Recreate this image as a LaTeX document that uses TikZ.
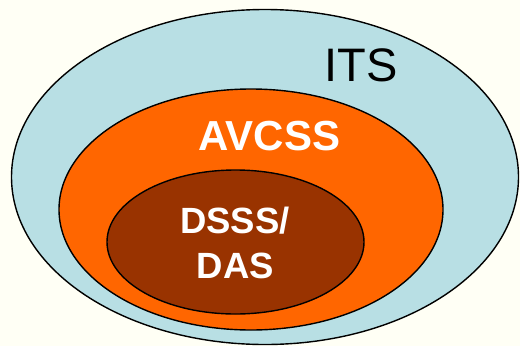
\documentclass[tikz,border=0pt]{standalone}
\usepackage{fontspec}
\setmainfont{Liberation Sans}
\definecolor{paper}{HTML}{FFFFF5}
\definecolor{itsblue}{HTML}{B8DFE4}
\definecolor{avcssorange}{HTML}{FF6600}
\definecolor{dsssbrown}{HTML}{993300}
\begin{document}
\begin{tikzpicture}[x=1pt,y=-1pt,
  ring/.style={draw=black,line width=1.4pt},
  label/.style={inner sep=0pt,anchor=base}]
  % canvas
  \fill[paper] (0,0) rectangle (520,346);
  \useasboundingbox (0,0) rectangle (520,346);
  % nested sets
  \filldraw[ring,fill=itsblue] (265,177) ellipse [x radius=253.5, y radius=167.5];
  \filldraw[ring,fill=avcssorange] (251,209.5) ellipse [x radius=192, y radius=120.5];
  \filldraw[ring,fill=dsssbrown] (235.5,242) ellipse [x radius=128.5, y radius=72];
  % set names
  \node[label,font=\fontsize{47}{47}\selectfont] (its) at (361,81) {ITS};
  \node[label,text=white,font=\fontsize{42}{42}\selectfont\bfseries] (avcss) at (269.5,150) {AVCSS};
  \node[label,text=white,font=\fontsize{36.5}{36.5}\selectfont\bfseries] (dsss) at (235,233) {DSSS/};
  \node[label,text=white,font=\fontsize{36.5}{36.5}\selectfont\bfseries] (das) at (235.5,278) {DAS};
\end{tikzpicture}
\end{document}
